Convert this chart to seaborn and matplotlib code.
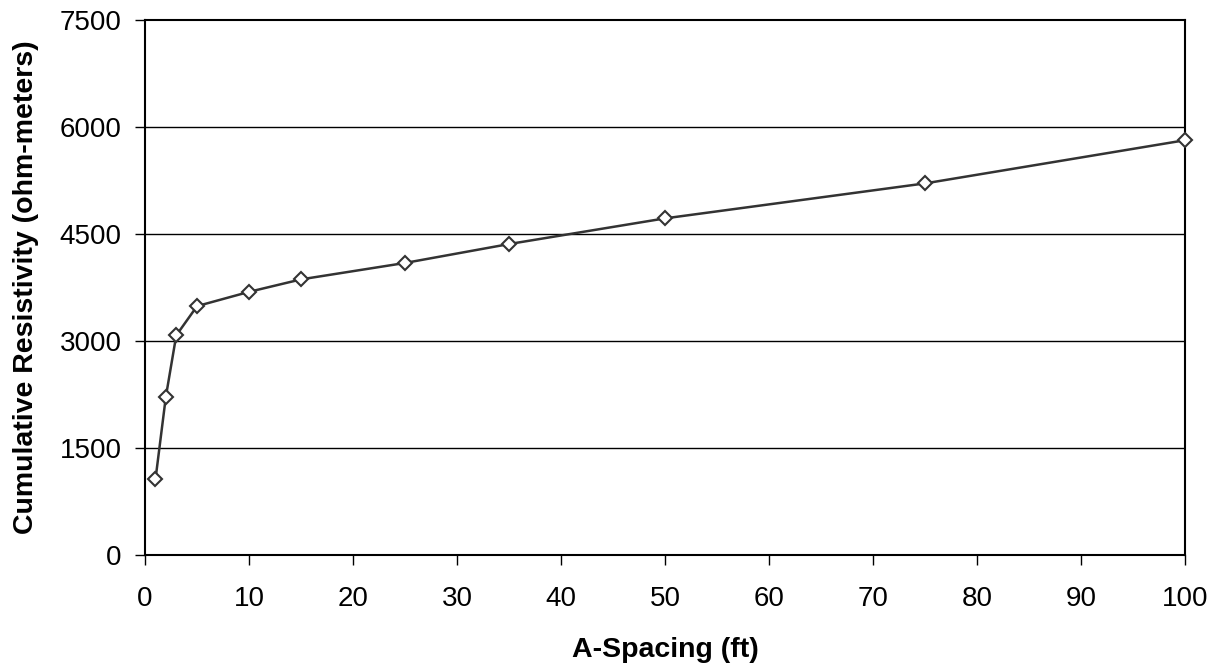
import pandas as pd
import matplotlib
matplotlib.use("Agg")
import matplotlib.pyplot as plt
import seaborn as sns

# A-spacing (ft) and cumulative resistivity (ohm-meters)
a_spacing = [1, 2, 3, 5, 10, 15, 25, 35, 50, 75, 100]
resistivity = [1060, 2220, 3080, 3490, 3690, 3865, 4095, 4360, 4720, 5210, 5815]

x_ticks = [0, 10, 20, 30, 40, 50, 60, 70, 80, 90, 100]
y_ticks = [0, 1500, 3000, 4500, 6000, 7500]

df = pd.DataFrame({"A-Spacing (ft)": a_spacing,
                   "Cumulative Resistivity (ohm-meters)": resistivity})

sns.set_style("ticks")
plt.rcParams['font.family'] = ['Liberation Sans', 'DejaVu Sans']
plt.rcParams['text.color'] = 'black'
plt.rcParams['xtick.color'] = 'black'
plt.rcParams['ytick.color'] = 'black'
plt.rcParams['axes.labelcolor'] = 'black'

f, ax = plt.subplots(figsize=(12.19, 6.68), dpi=100)
f.subplots_adjust(left=0.119, right=0.972, top=0.970, bottom=0.169)

# horizontal gridlines
for yv in y_ticks[1:-1]:
    ax.axhline(yv, color='black', lw=1, zorder=1)

sns.lineplot(data=df, x="A-Spacing (ft)", y="Cumulative Resistivity (ohm-meters)",
             ax=ax, color='#333333', lw=1.8, marker='D', markersize=7,
             markerfacecolor='white', markeredgecolor='#333333', markeredgewidth=1.5,
             zorder=3, clip_on=False)

ax.set_xlim(0, 100)
ax.set_ylim(0, 7500)
ax.set_xticks(x_ticks)
ax.set_yticks(y_ticks)
ax.tick_params(axis='both', labelsize=20, length=7, width=1, direction='out')
ax.tick_params(axis='x', pad=15)
ax.tick_params(axis='y', pad=10)
for s in ax.spines.values():
    s.set_visible(True)
    s.set_color('black')
    s.set_linewidth(1.5)

ax.set_xlabel("A-Spacing (ft)", fontsize=20.5, fontweight='bold', labelpad=18)
ax.set_ylabel("Cumulative Resistivity (ohm-meters)", fontsize=20.5, fontweight='bold', labelpad=15)

plt.savefig("out.png", dpi=100)
